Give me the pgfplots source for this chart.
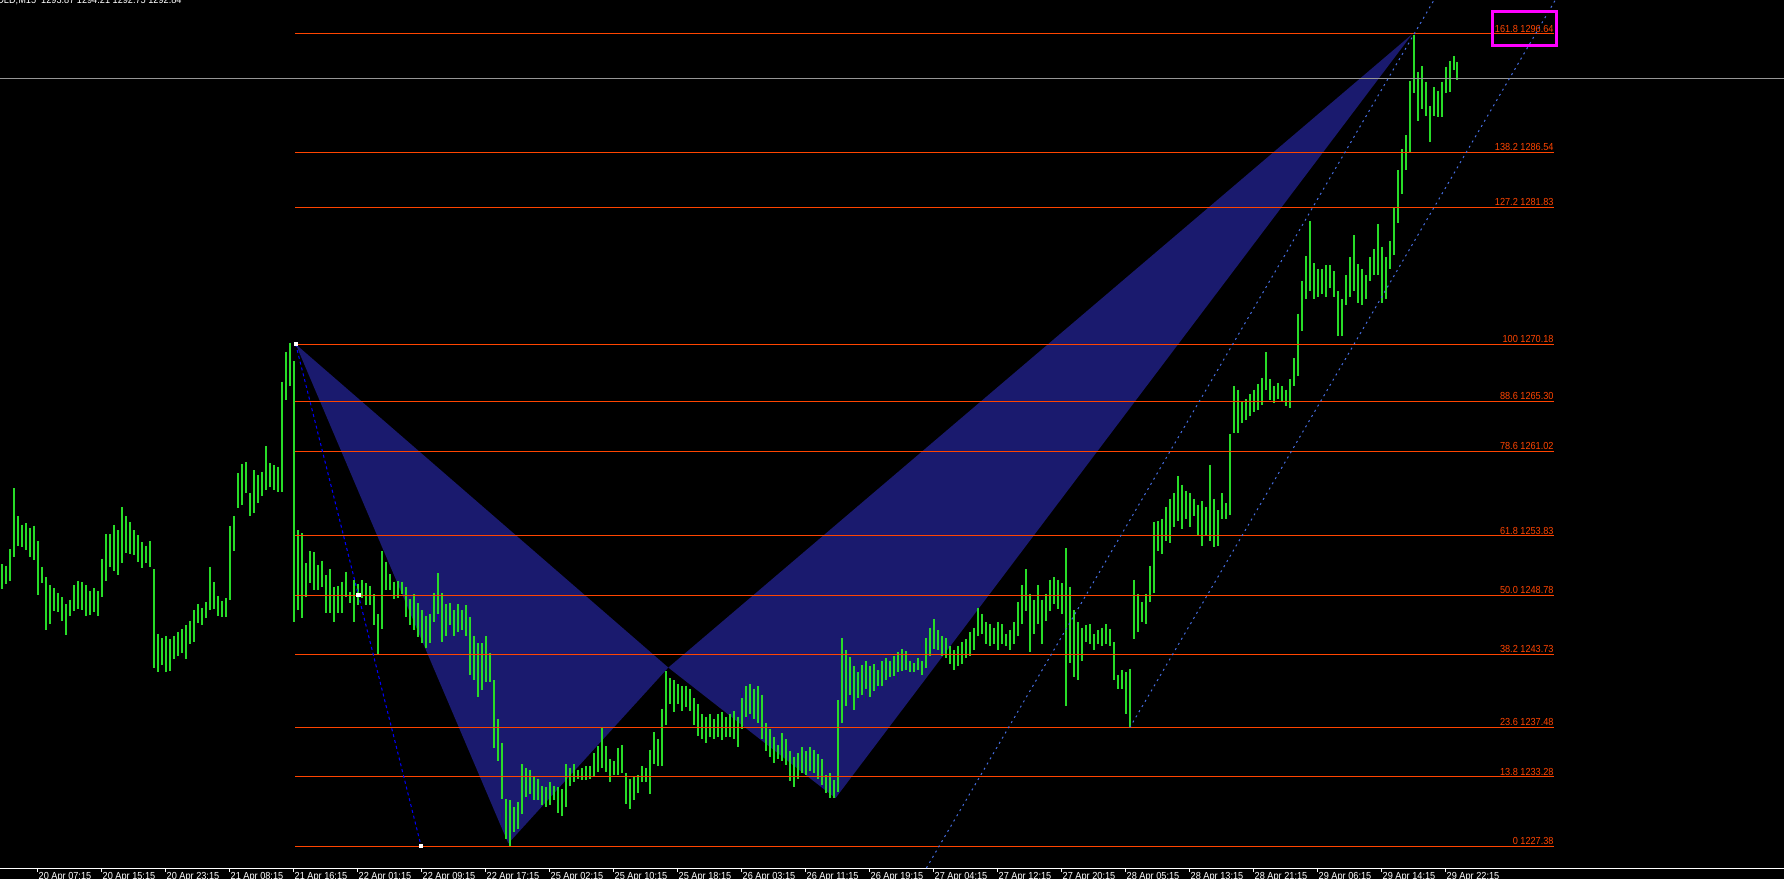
\documentclass[border=0pt]{standalone}
\usepackage{fontspec}
\setmainfont{Liberation Sans}
\newfontfamily\tickfont[FakeStretch=0.9]{Liberation Sans}
\usepackage{pgfplots}
\usepackage{pgfplotstable}
\pgfplotsset{compat=1.18}
\definecolor{bargreen}{RGB}{40,220,40}
\definecolor{fibred}{RGB}{255,69,0}
\definecolor{tri}{RGB}{26,26,110}
\definecolor{chan}{RGB}{70,110,225}
\definecolor{bidgray}{RGB}{150,150,150}
\definecolor{mag}{RGB}{255,0,255}
\newcommand\lbl{\fontsize{5.1pt}{6pt}\selectfont}

% GOLD M15 bars, two bars per row: b = first bar index, h = high, l = low
\pgfplotstableread{
b h l
-18 1251.4 1249.3
-16 1251.3 1249.7
-14 1252.7 1250.0
-12 1257.9 1252.0
-10 1255.5 1253.0
-8 1254.8 1252.9
-6 1254.9 1252.6
-4 1254.5 1252.0
-2 1254.7 1251.8
0 1253.4 1248.8
2 1251.2 1249.8
4 1250.3 1245.8
6 1249.6 1246.3
8 1249.4 1247.4
10 1249.0 1247.3
12 1248.6 1246.6
14 1248.0 1245.4
16 1248.4 1247.0
18 1249.6 1247.4
20 1250.0 1247.6
22 1249.9 1247.5
24 1249.6 1247.0
26 1249.1 1247.1
28 1249.4 1247.3
30 1249.1 1247.0
32 1251.9 1248.6
34 1254.0 1250.0
36 1254.0 1251.2
38 1254.8 1250.8
40 1254.3 1250.5
42 1256.3 1251.5
44 1255.5 1252.4
46 1255.0 1252.3
48 1254.3 1252.2
50 1253.9 1251.6
52 1253.3 1251.1
54 1253.0 1251.5
56 1253.4 1251.2
58 1251.0 1242.6
60 1245.5 1242.2
62 1245.1 1242.8
64 1245.3 1242.2
66 1245.0 1242.3
68 1245.3 1243.3
70 1245.6 1243.6
72 1245.9 1243.8
74 1246.2 1243.3
76 1246.6 1244.6
78 1247.5 1244.8
80 1248.0 1246.4
82 1247.7 1246.2
84 1248.2 1246.8
86 1251.2 1247.5
88 1249.9 1247.6
90 1248.7 1247.0
92 1248.3 1246.9
94 1248.5 1246.9
96 1254.7 1248.4
98 1255.5 1252.5
100 1259.2 1256.2
102 1260.0 1256.5
104 1260.1 1257.5
106 1257.5 1255.5
108 1259.45 1255.75
110 1259.02 1256.61
112 1259.31 1257.26
114 1261.50 1257.74
116 1260.02 1258.03
118 1259.88 1257.74
120 1259.73 1257.60
122 1266.98 1257.60
124 1269.54 1265.42
126 1270.31 1266.62
128 1268.75 1246.51
130 1254.33 1247.51
132 1254.05 1246.8
134 1251.49 1248.64
136 1252.54 1249.78
138 1252.43 1249.21
140 1251.35 1249.21
142 1251.72 1249.50
144 1250.49 1247.22
146 1251.0 1247.22
148 1249.5 1246.5
150 1249.55 1247.22
152 1249.93 1247.22
154 1250.78 1248.64
156 1249.07 1248.08
158 1250.07 1246.5
160 1249.7 1247.93
162 1250.07 1248.5
164 1249.78 1247.93
166 1249.58 1247.93
168 1248.87 1246.2
170 1247.14 1243.79
172 1252.54 1245.9
174 1251.63 1249.21
176 1250.58 1249.21
178 1249.93 1248.42
180 1249.98 1248.5
182 1249.93 1248.9
184 1249.5 1246.9
186 1248.42 1246.2
188 1248.87 1245.8
190 1248.08 1245.2
192 1247.5 1244.7
194 1247.0 1244.3
196 1247.2 1244.7
198 1249.0 1246.5
200 1250.65 1247.2
202 1249.0 1244.8
204 1248.0 1245.3
206 1248.1 1246.2
208 1247.5 1245.3
210 1248.0 1245.6
212 1247.5 1245.8
214 1247.9 1245.3
216 1246.9 1242.0
218 1245.3 1241.5
220 1244.7 1240.1
222 1244.7 1240.7
224 1245.3 1241.4
226 1243.8 1241.4
228 1241.5 1235.7
230 1238.2 1234.65
232 1236.2 1231.4
234 1231.4 1227.95
236 1231.3 1227.41
238 1230.7 1228.6
240 1231.15 1228.87
242 1234.35 1230.1
244 1234.05 1231.6
246 1233.9 1231.8
248 1233.3 1231.3
250 1233.1 1231.3
252 1232.5 1230.85
254 1232.4 1230.7
256 1232.8 1230.85
258 1232.5 1231.3
260 1232.4 1230.2
262 1232.2 1229.95
264 1234.35 1230.7
266 1234.05 1232.5
268 1234.35 1232.8
270 1233.9 1233.1
272 1234.05 1233.0
274 1234.2 1233.0
276 1234.2 1233.1
278 1235.3 1233.3
280 1235.9 1233.7
282 1237.55 1234.05
284 1235.9 1233.7
286 1234.8 1232.8
288 1234.65 1233.4
290 1235.7 1233.4
292 1236.0 1233.6
294 1233.6 1231.0
296 1233.1 1230.55
298 1233.3 1231.3
300 1233.4 1231.9
302 1234.2 1232.8
304 1234.05 1232.8
306 1235.6 1231.8
308 1237.1 1234.35
310 1236.5 1234.2
312 1239.1 1234.2
314 1242.3 1237.7
316 1241.7 1239.5
318 1241.5 1238.8
320 1241.2 1239.5
322 1241.05 1238.9
324 1241.05 1239.2
326 1240.75 1238.9
328 1240.0 1237.7
330 1239.5 1236.8
332 1238.6 1236.5
334 1238.4 1236.2
336 1238.6 1236.7
338 1238.2 1236.5
340 1238.6 1236.7
342 1238.8 1236.4
344 1238.4 1236.7
346 1238.6 1236.7
348 1238.9 1236.5
350 1238.4 1235.8
352 1240.0 1237.4
354 1241.0 1238.4
356 1241.2 1238.6
358 1240.8 1238.2
360 1241.0 1237.9
362 1240.3 1236.5
364 1237.9 1235.5
366 1237.4 1235.0
368 1236.7 1234.5
370 1236.0 1234.8
372 1237.0 1234.6
374 1236.5 1234.3
376 1235.5 1232.9
378 1235.0 1232.4
380 1235.3 1233.1
382 1235.8 1233.6
384 1235.5 1233.4
386 1235.8 1233.8
388 1235.6 1233.6
390 1235.2 1233.1
392 1234.8 1232.6
394 1233.4 1231.9
396 1233.6 1231.5
398 1233.0 1231.46
400 1239.8 1232.0
402 1245.1 1237.9
404 1244.1 1239.3
406 1243.5 1240.3
408 1242.7 1239.0
410 1242.2 1240.0
412 1242.8 1240.3
414 1243.2 1240.8
416 1242.7 1240.1
418 1242.9 1240.6
420 1242.4 1241.0
422 1243.2 1241.0
424 1243.4 1241.5
426 1243.2 1241.8
428 1243.6 1241.9
430 1243.9 1242.2
432 1244.2 1242.3
434 1244.0 1242.4
436 1243.2 1242.2
438 1243.0 1242.2
440 1243.4 1242.4
442 1243.2 1242.0
444 1245.1 1242.6
446 1246.0 1243.6
448 1246.75 1244.2
450 1245.8 1244.1
452 1245.3 1243.6
454 1245.1 1243.4
456 1244.4 1242.9
458 1244.1 1242.4
460 1244.4 1242.7
462 1244.8 1242.9
464 1245.0 1243.4
466 1245.6 1243.6
468 1246.0 1244.1
470 1247.7 1245.3
472 1247.2 1245.5
474 1246.5 1244.6
476 1246.3 1244.4
478 1246.0 1244.6
480 1246.5 1244.1
482 1246.3 1244.6
484 1245.5 1244.4
486 1245.8 1244.1
488 1246.5 1244.6
490 1248.2 1245.3
492 1249.6 1246.3
494 1251.0 1247.4
496 1248.9 1243.9
498 1248.4 1245.5
500 1249.6 1246.3
502 1248.4 1244.6
504 1248.9 1246.6
506 1250.1 1247.4
508 1250.3 1248.0
510 1250.1 1247.6
512 1249.8 1247.2
514 1252.8 1239.3
516 1249.5 1243.0
518 1247.5 1241.8
520 1246.5 1241.5
522 1246.0 1243.2
524 1246.2 1244.8
526 1246.3 1244.6
528 1245.5 1244.1
530 1245.8 1244.6
532 1246.0 1244.4
534 1246.3 1244.6
536 1245.9 1244.4
538 1244.8 1241.5
540 1242.0 1240.8
542 1242.4 1240.8
544 1242.2 1238.6
546 1242.5 1237.48
548 1250.1 1245.0
550 1248.9 1245.6
552 1248.2 1246.5
554 1248.9 1246.3
556 1251.3 1248.2
558 1255.0 1249.0
560 1255.1 1252.5
562 1255.3 1252.3
564 1256.3 1253.4
566 1257.0 1253.2
568 1257.5 1254.6
570 1258.9 1255.1
572 1258.2 1254.4
574 1257.7 1255.3
576 1257.5 1254.6
578 1257.0 1255.5
580 1256.5 1253.9
582 1256.8 1253.0
584 1256.3 1253.9
586 1259.9 1253.4
588 1257.0 1252.9
590 1256.0 1252.96
592 1257.5 1255.3
594 1256.6 1255.3
596 1262.5 1255.6
598 1266.6 1262.6
600 1266.3 1262.6
602 1265.3 1263.5
604 1265.5 1263.7
606 1265.9 1264.1
608 1266.3 1264.4
610 1266.8 1264.6
612 1267.3 1265.0
614 1269.5 1266.3
616 1267.2 1265.4
618 1266.6 1265.2
620 1266.9 1265.5
622 1266.6 1265.3
624 1266.3 1264.9
626 1267.2 1264.7
628 1269.0 1266.6
630 1272.8 1267.5
632 1275.6 1271.3
634 1277.7 1274.0
636 1280.7 1274.7
638 1277.1 1274.0
640 1276.6 1274.2
642 1276.6 1274.5
644 1276.9 1274.2
646 1276.9 1275.0
648 1276.4 1274.2
650 1274.7 1270.9
652 1274.0 1270.9
654 1276.1 1273.5
656 1277.6 1274.2
658 1279.5 1274.7
660 1277.0 1273.7
662 1276.6 1273.5
664 1276.1 1274.0
666 1277.6 1275.6
668 1278.3 1276.1
670 1280.4 1276.1
672 1278.5 1273.7
674 1277.6 1274.0
676 1279.0 1276.6
678 1281.9 1277.8
680 1285.0 1280.5
682 1286.8 1283.0
684 1288.0 1285.0
686 1292.6 1286.5
688 1296.55 1291.58
690 1293.43 1289.25
692 1293.91 1290.24
694 1292.57 1289.65
696 1290.5 1287.46
698 1292.09 1289.65
700 1291.8 1289.53
702 1292.57 1289.59
704 1293.85 1291.58
706 1294.34 1291.72
708 1294.76 1293.57
709.5 1294.21 1292.75
}\bars

\begin{document}
\begin{tikzpicture}
\useasboundingbox (0,-5.5pt) rectangle (892pt,434pt);
\clip (0,-5.5pt) rectangle (892pt,434pt);
\fill[black] (0,-5.5pt) rectangle (892pt,434pt);
\node[anchor=base east, inner sep=0pt, text=white, font=\tickfont\lbl] at (91pt,432.4pt) {GOLD,M15\enspace 1293.87 1294.21 1292.75 1292.84};
\begin{axis}[
  at={(0,0)}, anchor=south west,
  scale only axis, width=892pt, height=434pt,
  xmin=-18.65, xmax=873.35, ymin=1225.504, ymax=1299.54,
  axis x line*=bottom, axis y line=none,
  x axis line style={white, line width=0.5pt, -},
  ytick=\empty,
  xtick={0,32,...,704},
  xticklabels={20 Apr 07:15, 20 Apr 15:15, 20 Apr 23:15, 21 Apr 08:15, 21 Apr 16:15, 22 Apr 01:15, 22 Apr 09:15, 22 Apr 17:15, 25 Apr 02:15, 25 Apr 10:15, 25 Apr 18:15, 26 Apr 03:15, 26 Apr 11:15, 26 Apr 19:15, 27 Apr 04:15, 27 Apr 12:15, 27 Apr 20:15, 28 Apr 05:15, 28 Apr 13:15, 28 Apr 21:15, 29 Apr 06:15, 29 Apr 14:15, 29 Apr 22:15},
  tick align=outside,
  major tick length=2pt,
  tick style={white, line width=0.5pt},
  xticklabel style={font=\tickfont\lbl, text=white, anchor=north west, inner sep=0pt, xshift=0.5pt},
  clip=true,
]
% harmonic pattern triangles X-A-B and B-C-D
\addplot[fill=tri, draw=none] coordinates {(129.2,1270.18) (235.5,1227.6) (315.5,1242.6)};
\addplot[fill=tri, draw=none] coordinates {(315.5,1242.6) (399.1,1231.46) (687.5,1296.64)};
% price bars
\addplot[draw=none, mark=none, error bars/.cd, y dir=minus, y explicit, error mark=none,
  error bar style={draw=bargreen, line width=1pt, solid}]
  table[x expr=\thisrow{b}+0.5, y=h, y error minus expr=\thisrow{h}-\thisrow{l}] {\bars};
% bid line
\addplot[bidgray, line width=0.5pt] coordinates {(-18.65,1292.84) (873.35,1292.84)};
% fibonacci levels
\foreach \lv/\pr in {161.8/1296.64, 138.2/1286.54, 127.2/1281.83, 100/1270.18, 88.6/1265.30, 78.6/1261.02, 61.8/1253.83, 50.0/1248.78, 38.2/1243.73, 23.6/1237.48, 13.8/1233.28, 0/1227.38}{
  \edef\tmp{\noexpand\addplot[fibred, line width=0.5pt] coordinates {(128.9,\pr) (758.35,\pr)};
  \noexpand\node[anchor=base east, inner sep=0pt, text=fibred, font=\noexpand\tickfont\noexpand\lbl, yshift=0.9pt] at (axis cs:758.35,\pr) {\lv\space\pr};}
  \tmp
}
% fibonacci diagonal
\addplot[blue, line width=0.5pt, dash pattern=on 1.5pt off 1.5pt] coordinates {(129.2,1270.18) (191.9,1227.38)};
\addplot[only marks, mark=square*, mark size=0.8pt, mark options={fill=white, draw=white}] coordinates {(129.2,1270.18) (160.55,1248.78) (191.9,1227.38)};
% channel
\addplot[chan, line width=0.5pt, dash pattern=on 1pt off 2pt] coordinates {(440,1224.18) (705,1301.48)};
\addplot[chan, line width=0.5pt, dash pattern=on 1pt off 2pt] coordinates {(546.25,1237.48) (762,1300.41)};
% highlight box
\draw[mag, line width=1.35pt] (axis cs:727.5,1298.58) rectangle (axis cs:759.5,1295.68);
\node[anchor=north west, inner sep=0pt, text=white, font=\tickfont\lbl, xshift=0.5pt, yshift=-2pt] at (axis cs:-32,1225.504) {20 Apr 2016};
\end{axis}
\end{tikzpicture}
\end{document}
